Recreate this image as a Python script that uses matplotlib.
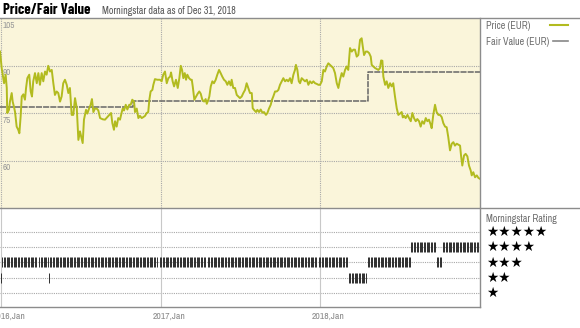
import numpy as np
import matplotlib.pyplot as plt
from matplotlib.lines import Line2D
from matplotlib.transforms import blended_transform_factory

plt.rcParams['font.family'] = ['Archivo Narrow', 'DejaVu Sans']

# price history (EUR), x as fractional year
price_years = [
    2015.991, 2016.001, 2016.016, 2016.026, 2016.033, 2016.036, 2016.047, 2016.053, 2016.064, 2016.070,
    2016.078, 2016.085, 2016.095, 2016.105, 2016.112, 2016.120, 2016.127, 2016.137, 2016.147, 2016.154,
    2016.162, 2016.174, 2016.183, 2016.191, 2016.199, 2016.210, 2016.221, 2016.231, 2016.241, 2016.252,
    2016.262, 2016.273, 2016.283, 2016.293, 2016.304, 2016.315, 2016.325, 2016.335, 2016.346, 2016.356,
    2016.367, 2016.377, 2016.387, 2016.398, 2016.409, 2016.419, 2016.429, 2016.440, 2016.450, 2016.461,
    2016.472, 2016.482, 2016.492, 2016.509, 2016.517, 2016.530, 2016.538, 2016.549, 2016.559, 2016.567,
    2016.576, 2016.586, 2016.597, 2016.607, 2016.618, 2016.635, 2016.649, 2016.663, 2016.676, 2016.687,
    2016.695, 2016.705, 2016.712, 2016.722, 2016.732, 2016.743, 2016.754, 2016.760, 2016.768, 2016.779,
    2016.789, 2016.801, 2016.810, 2016.820, 2016.831, 2016.837, 2016.848, 2016.858, 2016.868, 2016.879,
    2016.889, 2016.900, 2016.910, 2016.920, 2016.927, 2016.935, 2016.946, 2016.952, 2016.962, 2016.977,
    2016.994, 2017.004, 2017.014, 2017.025, 2017.036, 2017.046, 2017.057, 2017.063, 2017.073, 2017.082,
    2017.088, 2017.094, 2017.105, 2017.115, 2017.124, 2017.132, 2017.140, 2017.149, 2017.157, 2017.165,
    2017.176, 2017.186, 2017.193, 2017.199, 2017.209, 2017.220, 2017.230, 2017.240, 2017.249, 2017.259,
    2017.270, 2017.280, 2017.287, 2017.297, 2017.303, 2017.312, 2017.322, 2017.332, 2017.343, 2017.353,
    2017.364, 2017.374, 2017.384, 2017.395, 2017.406, 2017.416, 2017.426, 2017.437, 2017.443, 2017.453,
    2017.464, 2017.475, 2017.485, 2017.495, 2017.506, 2017.516, 2017.527, 2017.537, 2017.547, 2017.558,
    2017.569, 2017.575, 2017.583, 2017.596, 2017.604, 2017.615, 2017.625, 2017.636, 2017.646, 2017.658,
    2017.667, 2017.677, 2017.688, 2017.696, 2017.704, 2017.715, 2017.726, 2017.736, 2017.746, 2017.757,
    2017.767, 2017.778, 2017.788, 2017.798, 2017.809, 2017.819, 2017.830, 2017.840, 2017.846, 2017.855,
    2017.864, 2017.872, 2017.882, 2017.893, 2017.903, 2017.914, 2017.924, 2017.934, 2017.945, 2017.955,
    2017.966, 2017.976, 2017.987, 2017.997, 2018.008, 2018.018, 2018.028, 2018.039, 2018.049, 2018.060,
    2018.070, 2018.080, 2018.091, 2018.102, 2018.112, 2018.122, 2018.133, 2018.143, 2018.154, 2018.164,
    2018.174, 2018.185, 2018.196, 2018.206, 2018.216, 2018.227, 2018.237, 2018.248, 2018.258, 2018.265,
    2018.273, 2018.284, 2018.294, 2018.305, 2018.315, 2018.321, 2018.331, 2018.342, 2018.353, 2018.363,
    2018.373, 2018.380, 2018.388, 2018.394, 2018.405, 2018.415, 2018.425, 2018.436, 2018.446, 2018.456,
    2018.467, 2018.478, 2018.488, 2018.498, 2018.509, 2018.516, 2018.524, 2018.534, 2018.545, 2018.555,
    2018.566, 2018.576, 2018.586, 2018.597, 2018.607, 2018.618, 2018.628, 2018.638, 2018.649, 2018.660,
    2018.670, 2018.680, 2018.691, 2018.697, 2018.707, 2018.718, 2018.728, 2018.739, 2018.749, 2018.760,
    2018.770, 2018.781, 2018.791, 2018.801, 2018.812, 2018.823, 2018.833, 2018.843, 2018.854, 2018.864,
    2018.875, 2018.881, 2018.889, 2018.900, 2018.910, 2018.921, 2018.931, 2018.942, 2018.948, 2018.958,
    2018.969, 2018.980, 2018.990, 2019.000,
]
price_eur = [
    94.4, 89.2, 84.4, 87.1, 82.9, 75.0, 76.0, 78.6, 81.3, 78.6,
    77.0, 75.3, 70.7, 69.7, 68.6, 73.9, 80.2, 80.9, 79.2, 82.9,
    86.0, 87.1, 81.8, 80.2, 85.0, 87.6, 84.4, 87.6, 83.9, 87.6,
    85.0, 88.1, 87.1, 89.9, 88.1, 88.6, 84.4, 80.7, 81.8, 81.3,
    78.6, 80.2, 84.4, 85.5, 83.9, 81.3, 82.9, 74.4, 74.4, 79.7,
    76.5, 66.5, 69.2, 65.5, 72.9, 76.0, 74.8, 76.4, 77.6, 79.4,
    75.3, 76.4, 76.4, 75.8, 73.4, 73.0, 72.9, 73.7, 74.4, 75.0,
    71.8, 69.7, 72.4, 70.7, 73.4, 72.9, 75.3, 76.4, 75.8, 77.6,
    76.1, 77.6, 77.6, 79.2, 78.6, 75.3, 76.4, 73.4, 74.1, 73.4,
    73.7, 74.1, 75.0, 75.3, 79.2, 81.8, 82.3, 83.9, 85.7, 85.5,
    85.5, 85.0, 87.1, 88.1, 84.4, 86.0, 86.5, 87.8, 85.0, 83.4,
    84.4, 85.5, 82.9, 86.0, 89.9, 88.6, 86.0, 87.6, 85.5, 87.1,
    86.0, 85.5, 85.5, 83.4, 79.2, 80.2, 81.1, 81.8, 81.1, 79.2,
    78.6, 79.4, 77.9, 79.2, 80.2, 83.4, 85.0, 84.4, 85.5, 87.1,
    88.6, 87.6, 86.5, 85.5, 85.0, 83.9, 85.0, 83.7, 85.5, 82.9,
    82.9, 80.7, 80.2, 79.7, 80.2, 81.3, 82.3, 84.4, 82.9, 81.3,
    81.3, 76.5, 76.0, 75.3, 76.0, 75.3, 76.1, 75.1, 75.3, 74.4,
    75.0, 76.4, 77.6, 79.2, 80.2, 81.8, 81.8, 82.3, 83.9, 85.0,
    86.0, 85.0, 85.5, 85.0, 86.0, 84.4, 87.1, 88.6, 90.2, 88.6,
    85.0, 84.4, 86.0, 85.5, 85.0, 85.5, 83.9, 85.0, 84.4, 85.0,
    84.4, 84.2, 83.9, 83.9, 85.0, 88.6, 88.1, 89.7, 90.7, 90.2,
    89.7, 89.2, 87.6, 84.4, 82.9, 85.5, 87.6, 86.5, 88.6, 89.7,
    88.6, 95.5, 94.4, 95.0, 95.0, 92.8, 93.3, 98.1, 98.6, 96.0,
    93.3, 94.4, 94.4, 93.9, 92.8, 90.2, 89.7, 89.2, 88.9, 88.6,
    89.2, 91.6, 91.5, 86.5, 83.9, 85.0, 82.9, 84.4, 83.4, 84.4,
    80.2, 76.5, 74.4, 74.8, 75.3, 73.6, 74.1, 73.4, 74.4, 73.4,
    72.4, 75.0, 73.4, 72.4, 73.1, 72.4, 70.7, 72.4, 71.6, 73.4,
    72.4, 72.9, 71.3, 70.2, 74.4, 77.6, 75.3, 74.4, 74.4, 73.7,
    71.8, 70.7, 70.5, 67.4, 63.2, 65.3, 65.8, 64.7, 65.3, 65.0,
    64.7, 61.6, 58.4, 61.6, 62.1, 61.3, 58.4, 56.8, 55.3, 56.3,
    54.7, 55.3, 54.5, 54.2,
]

# fair value estimate (step changes)
fair_years = [2015.991, 2016.824, 2018.296, 2019.0]
fair_eur = [76.9, 78.9, 87.9, 87.9]

# Morningstar star rating periods
rating_start = [2016.000, 2016.006, 2016.238, 2016.296, 2016.304, 2016.994, 2017.295, 2017.990,
                2018.179, 2018.298, 2018.568, 2018.731, 2018.768]
rating_end = [2016.004, 2016.223, 2016.292, 2016.300, 2016.981, 2017.282, 2017.978, 2018.172,
              2018.292, 2018.562, 2018.722, 2018.765, 2018.992]
rating_stars = [2, 3, 3, 2, 3, 3, 3, 3, 2, 3, 4, 3, 4]

year_ticks = [2016, 2017, 2018]
year_labels = ['2016,Jan', '2017,Jan', '2018,Jan']
price_ticks = [45, 60, 75, 90, 105]

PRICE_COL = '#B2BB1F'
FAIR_COL = '#666666'
GRID_COL = '#a8a8a8'
BORDER_COL = '#8c8c8c'
LABEL_COL = '#6e6e6e'

W, H = 580, 328


def fx(x):
    return x / W


def fy(y):
    return 1 - y / H


fig = plt.figure(figsize=(5.8, 3.28), dpi=100)
ax = fig.add_axes([0, fy(208), fx(480), (208 - 18) / H])
axr = fig.add_axes([0, fy(307), fx(480), (307 - 208) / H], sharex=ax)

# price panel
ax.set_facecolor('#FAF5DA')
ax.set_xlim(2015.9906, 2019.0)
ax.set_ylim(45, 105)
for s in ax.spines.values():
    s.set_visible(False)
ax.tick_params(left=False, bottom=False, labelleft=False, labelbottom=False)
for v in price_ticks[1:4]:
    ax.axhline(v, color=GRID_COL, lw=0.8, ls=(0, (1, 1)), zorder=1)
for yr in year_ticks:
    ax.axvline(yr, color=GRID_COL, lw=0.8, ls=(0, (1, 1)), zorder=1)
ytrans = blended_transform_factory(ax.transAxes, ax.transData)
for v in price_ticks:
    ax.text(0.006, v - 0.8, str(v), transform=ytrans, ha='left', va='top',
            fontsize=6.5, color='#9a9a9a', clip_on=False, zorder=2)

ax.plot(fair_years, fair_eur, drawstyle='steps-post', color=FAIR_COL, lw=1.1,
        ls=(0, (4, 0.7)), zorder=3)
ax.plot(price_years, price_eur, color=PRICE_COL, lw=1.4, zorder=4)

# rating panel
axr.set_facecolor('white')
axr.set_ylim(0.07, 6.58)
for s in axr.spines.values():
    s.set_visible(False)
axr.tick_params(left=False, bottom=False, labelleft=False, labelbottom=False)
for r in range(1, 6):
    axr.axhline(r, color=GRID_COL, lw=0.8, ls=(0, (1, 1)), zorder=1)
for yr in year_ticks:
    axr.axvline(yr, color='#c8c8c8', lw=0.8, zorder=1)
for a, b, st in zip(rating_start, rating_end, rating_stars):
    days = np.arange(a, b + 1e-6, 0.0088)
    axr.vlines(days, st - 0.33, st + 0.33, color='#2e2e2e', lw=0.7, zorder=3)

xtrans = blended_transform_factory(axr.transData, axr.transAxes)
for yr, lab in zip(year_ticks, year_labels):
    axr.text(yr - 0.055, -0.05, lab, transform=xtrans, ha='left', va='top',
             fontsize=7, color='#8a8a8a', clip_on=False)

# right-hand panel: legend and star key
fig.text(fx(486), fy(26), 'Price (EUR)', ha='left', va='center', fontsize=7.2, color=LABEL_COL)
fig.text(fx(486), fy(42), 'Fair Value (EUR)', ha='left', va='center', fontsize=7.2, color=LABEL_COL)
fig.add_artist(Line2D([fx(550), fx(568)], [fy(25), fy(25)], color=PRICE_COL, lw=1.5))
fig.add_artist(Line2D([fx(553), fx(568)], [fy(41), fy(41)], color='#888888', lw=1.2))
fig.text(fx(486), fy(219), 'Morningstar Rating', ha='left', va='center', fontsize=7.2, color=LABEL_COL)
strans = blended_transform_factory(axr.transAxes, axr.transData)
for r in range(5, 0, -1):
    axr.text(1.013, r, '\u2605' * r, transform=strans, ha='left', va='center',
             fontsize=9.8, family='DejaVu Sans', color='black', clip_on=False)

# frame lines
for xs, ys in [((0, 580), (18, 18)), ((0, 580), (208, 208)), ((480, 480), (18, 307)),
               ((0, 480), (307, 307))]:
    fig.add_artist(Line2D([fx(x) for x in xs], [fy(y) for y in ys], color=BORDER_COL, lw=1.0))

# titles
fig.text(fx(3), fy(10), 'Price/Fair Value', ha='left', va='center', fontsize=10.6,
         family=['Barlow Condensed', 'DejaVu Sans'], fontweight='bold', color='black')
fig.text(fx(102), fy(11), 'Morningstar data as of Dec 31, 2018', ha='left', va='center',
         fontsize=7.2, color='#555555')

fig.savefig('out.png', dpi=100)
